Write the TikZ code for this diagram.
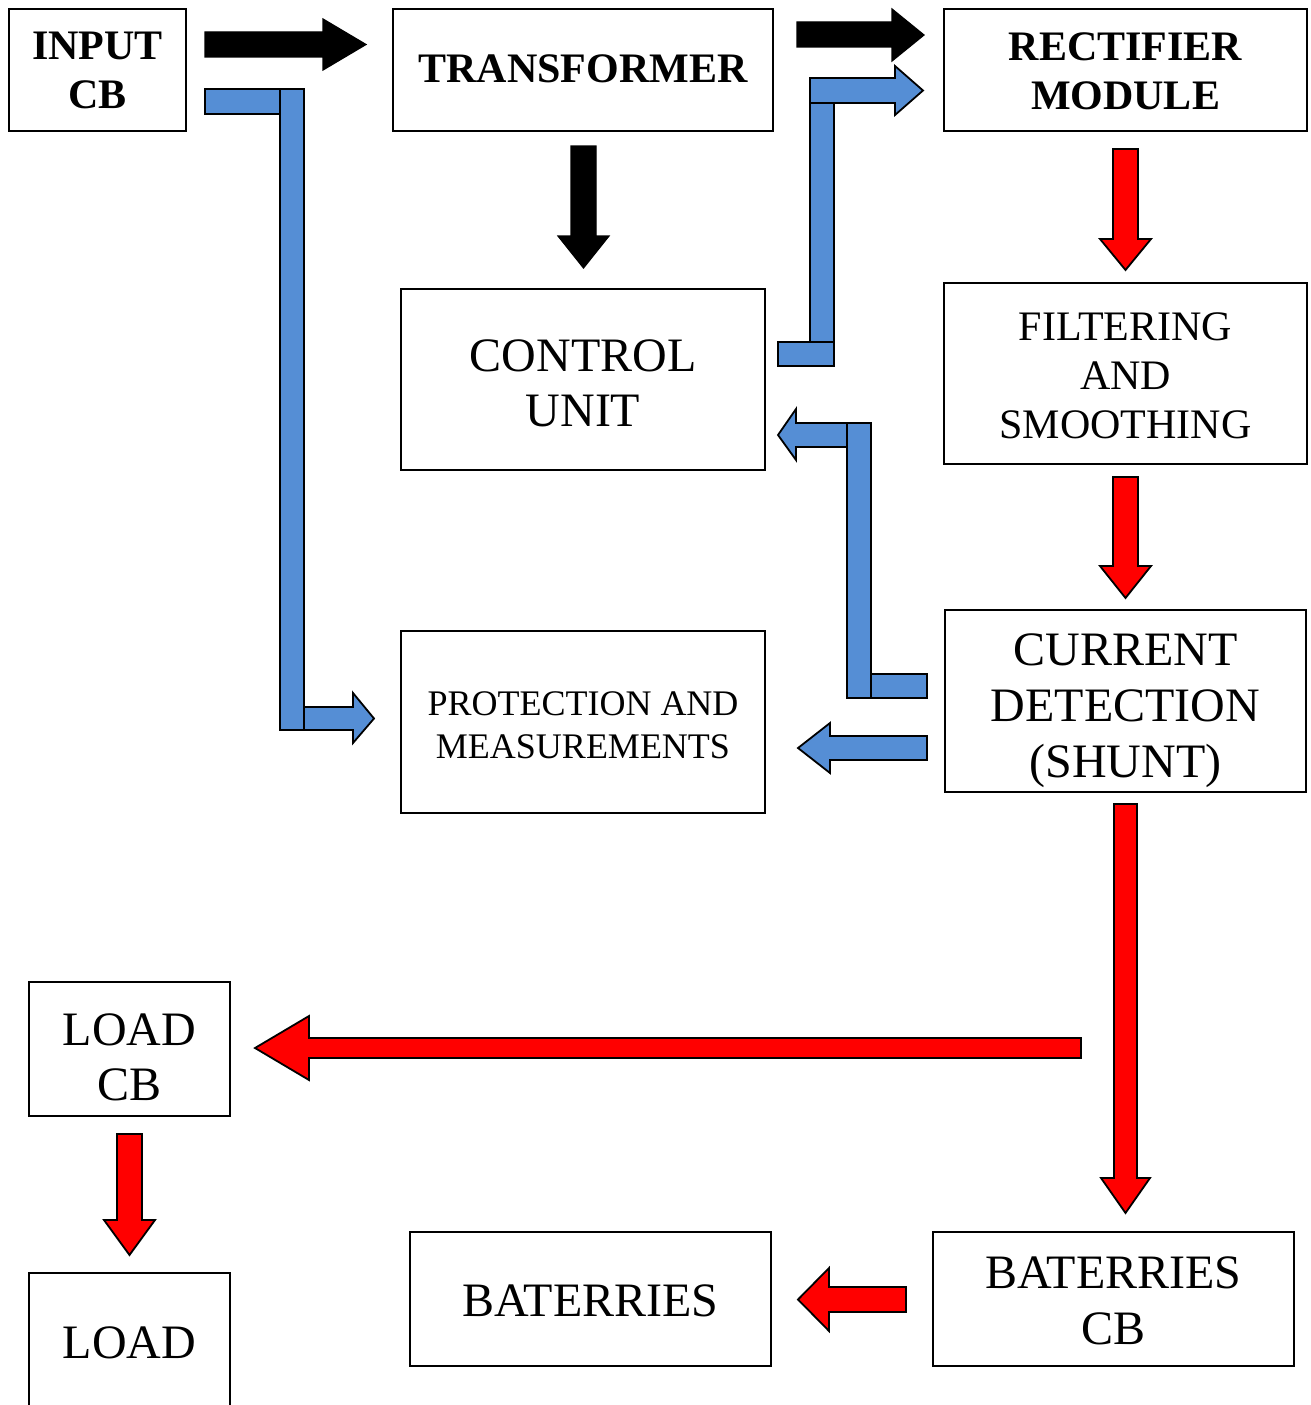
\documentclass[tikz,border=0pt]{standalone}
\usepackage{fontspec}
\setmainfont{Liberation Serif}
\definecolor{myblue}{RGB}{85,142,213}
\definecolor{myred}{RGB}{255,0,0}
\tikzset{
  box/.style={draw=black, line width=1.6pt, inner sep=0pt},
  txt/.style={inner sep=0pt, align=center},
  fA/.style={font=\bfseries\fontsize{42}{49}\selectfont},
  fB/.style={font=\fontsize{48}{55}\selectfont},
  fBB/.style={font=\fontsize{48}{56}\selectfont},
  fC/.style={font=\fontsize{42}{49}\selectfont},
  fD/.style={font=\fontsize{36}{43}\selectfont},
  blkarrow/.style={fill=black, draw=black, line width=1.2pt, line join=miter},
  bluearrow/.style={fill=myblue, draw=black, line width=1.8pt, line join=miter},
  redarrow/.style={fill=myred, draw=black, line width=1.8pt, line join=miter},
}
\begin{document}
\begin{tikzpicture}[x=1pt,y=-1pt]
\useasboundingbox (0,0) rectangle (1311,1405);

% boxes
\node[box,minimum width=177pt,minimum height=122pt] (input) at (97.5,70) {};
\node[box,minimum width=380pt,minimum height=122pt] (transformer) at (583,70) {};
\node[box,minimum width=363pt,minimum height=122pt] (rectifier) at (1125.5,70) {};
\node[box,minimum width=364pt,minimum height=181pt] (control) at (583,379.5) {};
\node[box,minimum width=363pt,minimum height=181pt] (filter) at (1125.5,373.5) {};
\node[box,minimum width=364pt,minimum height=182pt] (protect) at (583,722) {};
\node[box,minimum width=361pt,minimum height=182pt] (current) at (1125.5,701) {};
\node[box,minimum width=201pt,minimum height=134pt] (loadcb) at (129.5,1049) {};
\node[box,minimum width=201pt,minimum height=138pt] (load) at (129.5,1342) {};
\node[box,minimum width=361pt,minimum height=134pt] (bat) at (590.5,1299) {};
\node[box,minimum width=361pt,minimum height=134pt] (batcb) at (1113.5,1299) {};

% texts
\node[txt,fA] (inputtext) at (97.5,70) {INPUT\\CB};
\node[txt,fA] (transformertext) at (583,69) {TRANSFORMER};
\node[txt,fA] (rectifiertext) at (1125.5,71) {RECTIFIER\\MODULE};
\node[txt,fB] (controltext) at (583,383.5) {CONTROL\\UNIT};
\node[txt,fC] (filtertext) at (1125.5,375.5) {FILTERING\\AND\\SMOOTHING};
\node[txt,fD] (protecttext) at (583,725) {PROTECTION AND\\MEASUREMENTS};
\node[txt,fBB] (currenttext) at (1125.5,711) {CURRENT\\DETECTION\\(SHUNT)};
\node[txt,fB] (loadcbtext) at (129.5,1057) {LOAD\\CB};
\node[txt,fB] (loadtext) at (129.5,1343) {LOAD};
\node[txt,fB] (battext) at (590.5,1301) {BATERRIES};
\node[txt,fBB] (batcbtext) at (1113.5,1301) {BATERRIES\\CB};

% black arrows
\draw[blkarrow] (205,32) -- (323,32) -- (323,19) -- (366,44.5) -- (323,70) -- (323,57) -- (205,57) -- cycle;
\draw[blkarrow] (797,22) -- (892,22) -- (892,9) -- (924,35) -- (892,61) -- (892,47) -- (797,47) -- cycle;
\draw[blkarrow] (571,146) -- (596,146) -- (596,236) -- (609,236) -- (583.5,268) -- (558,236) -- (571,236) -- cycle;

% blue: input CB -> protection
\draw[bluearrow] (205,89) rectangle (280,114);
\draw[bluearrow] (280,89) rectangle (304,730);
\draw[bluearrow] (304,707) -- (353,707) -- (353,693) -- (374,718.5) -- (353,743) -- (353,730) -- (304,730) -- cycle;

% blue: control -> rectifier
\draw[bluearrow] (778,342) rectangle (834,366);
\draw[bluearrow] (810,103) rectangle (834,342);
\draw[bluearrow] (810,78) -- (895,78) -- (895,66) -- (923,90.5) -- (895,115) -- (895,103) -- (810,103) -- cycle;

% blue: current -> control
\draw[bluearrow] (871,674) rectangle (927,698);
\draw[bluearrow] (847,423) rectangle (871,698);
\draw[bluearrow] (847,423) -- (796,423) -- (796,409) -- (778,435) -- (796,460) -- (796,447) -- (847,447) -- cycle;

% blue: current -> protection
\draw[bluearrow] (927,736) -- (830,736) -- (830,723) -- (798,748) -- (830,773) -- (830,760) -- (927,760) -- cycle;

% red arrows
\draw[redarrow] (1113,149) -- (1138,149) -- (1138,239) -- (1151,239) -- (1125.5,270) -- (1100,239) -- (1113,239) -- cycle;
\draw[redarrow] (1113,477) -- (1138,477) -- (1138,566) -- (1151,566) -- (1125.5,598) -- (1100,566) -- (1113,566) -- cycle;
\draw[redarrow] (1114,804) -- (1137,804) -- (1137,1178) -- (1150,1178) -- (1125.5,1213) -- (1101,1178) -- (1114,1178) -- cycle;
\draw[redarrow] (1081,1038) -- (309,1038) -- (309,1016) -- (255,1048) -- (309,1080) -- (309,1058) -- (1081,1058) -- cycle;
\draw[redarrow] (117,1134) -- (142,1134) -- (142,1220) -- (155,1220) -- (129.5,1255) -- (104,1220) -- (117,1220) -- cycle;
\draw[redarrow] (906,1287) -- (829,1287) -- (829,1268) -- (798,1299.5) -- (829,1331) -- (829,1312) -- (906,1312) -- cycle;
\end{tikzpicture}
\end{document}
